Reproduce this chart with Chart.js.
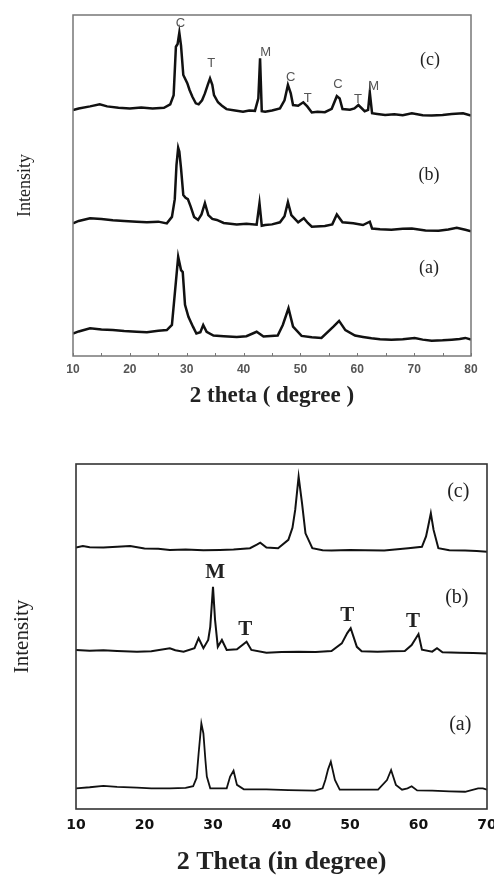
<!DOCTYPE html>
<html>
<head>
<meta charset="utf-8">
<script src="https://cdn.jsdelivr.net/npm/chart.js@4/dist/chart.umd.min.js"></script>
<style>
  html, body { margin: 0; padding: 0; background: #fff; overflow: hidden; width: 494px; height: 890px; }
  #topWrap { position: absolute; left: 0; top: 0; }
  #botWrap { position: absolute; left: 0; top: 440px; }
</style>
</head>
<body>
<div id="topWrap"><canvas id="topChart" width="494" height="420"></canvas></div>
<div id="botWrap"><canvas id="botChart" width="520" height="450"></canvas></div>
<script>
// ---- upper pattern, 2 theta 10-80 (intensity offset per trace) ----
var topCX = [10, 11, 13, 14.7, 16, 18, 20, 22, 24, 26, 27.1, 27.7, 28.1, 28.4, 28.7, 29.0, 29.4, 30.1, 30.5, 31.0, 31.6, 32.1, 32.7, 33.2, 33.7, 34.1, 34.5, 34.8, 35.5, 36.2, 37, 38.5, 39.9, 41, 42, 42.6, 42.9, 43.2, 43.8, 45, 46.4, 47.2, 47.8, 48.3, 48.7, 49.6, 50.5, 51.2, 52, 53, 54.3, 55.5, 56.4, 56.9, 57.4, 58.7, 59.5, 60.2, 61.3, 61.9, 62.2, 62.6, 63.5, 64.9, 66.5, 68, 69.6, 71.5, 73.1, 75, 76.6, 78.6, 80];
var topCY = [72.1, 72.6, 73.2, 73.8, 73.2, 72.8, 72.6, 72.9, 72.6, 72.8, 73.8, 76.5, 90.7, 91.5, 94.8, 91.0, 82.4, 80.0, 78.0, 76.0, 74.1, 73.8, 75.0, 77.0, 79.5, 81.4, 79.5, 76.5, 74.4, 73.4, 72.4, 72.0, 71.6, 72.0, 71.9, 75.6, 87.3, 71.8, 71.6, 72.0, 72.6, 75.0, 79.5, 77.0, 73.6, 73.4, 74.4, 73.2, 71.4, 71.6, 71.5, 72.5, 76.2, 75.5, 72.4, 72.2, 72.6, 73.6, 71.8, 72.2, 77.3, 71.2, 71.0, 70.7, 70.9, 70.6, 71.2, 70.6, 70.5, 70.7, 71.0, 71.2, 70.5];

var topBX = [10, 11, 13, 15, 17, 19, 21.2, 23, 25, 26.5, 27.4, 27.9, 28.2, 28.5, 28.7, 29.0, 29.4, 29.8, 30.2, 30.7, 31.3, 32.0, 32.6, 33.2, 33.8, 34.5, 35.3, 36.5, 38.8, 40.5, 42.3, 42.8, 43.2, 43.8, 45, 46.4, 47.2, 47.8, 48.4, 49.6, 50.6, 51.3, 52, 54.3, 55.6, 56.4, 57.4, 59.3, 61, 62.2, 62.6, 64, 66, 68, 69.6, 72, 74.3, 76, 77.5, 79, 80];
var topBY = [38.9, 39.6, 40.4, 40.2, 39.8, 39.6, 39.4, 39.2, 39.4, 38.9, 40.8, 46.0, 56.0, 61.1, 60.0, 55.0, 47.2, 46.4, 46.0, 43.8, 40.8, 39.9, 41.5, 44.8, 41.3, 40.2, 39.9, 39.0, 38.6, 38.8, 38.5, 44.8, 38.2, 38.4, 38.6, 39.2, 41.0, 45.1, 41.3, 39.2, 40.4, 39.0, 37.9, 38.1, 38.6, 41.5, 39.2, 38.9, 38.4, 39.4, 37.4, 37.2, 37.0, 37.3, 37.4, 36.8, 36.7, 37.1, 37.6, 37.0, 36.6];

var topAX = [10, 11, 13, 15, 17, 19, 21.2, 23, 25, 26.5, 27.4, 28.1, 28.5, 29.0, 29.3, 29.7, 30.3, 31.1, 31.7, 32.4, 32.9, 33.5, 34.7, 36.5, 38.8, 40.5, 42.3, 43.5, 46, 46.9, 47.9, 48.7, 50.2, 52, 53.7, 55.8, 56.8, 57.9, 59.6, 61, 62.5, 64, 66, 68, 70.1, 71.5, 73.1, 75, 76.6, 78, 79, 80];
var topAY = [6.6, 7.2, 8.1, 7.8, 7.6, 7.3, 7.1, 7.0, 7.4, 7.6, 9.1, 21.8, 29.1, 25.2, 24.6, 15.0, 11.5, 8.6, 6.6, 7.0, 9.1, 7.1, 6.0, 5.8, 5.6, 5.8, 7.1, 5.7, 6.0, 9.1, 14.0, 8.6, 5.9, 5.5, 5.3, 8.6, 10.3, 7.6, 6.0, 5.6, 5.2, 4.9, 4.8, 4.9, 5.3, 4.8, 4.5, 4.6, 4.8, 5.0, 5.3, 4.8];

// tick marks every 5 degrees, labels only on the tens
var topTicks = [10, 15, 20, 25, 30, 35, 40, 45, 50, 55, 60, 65, 70, 75, 80];
var topPeakText = ["C", "T", "M", "C", "T", "C", "T", "M"];
var topPeakX = [28.9, 34.3, 43.9, 48.3, 51.3, 56.6, 60.1, 62.9];
var topPeakY = [97.4, 85.9, 88.9, 81.8, 75.6, 79.5, 75.1, 79.0];
var topTraceText = ["(c)", "(b)", "(a)"];
var topTraceX = [72.8, 72.6, 72.6];
var topTraceY = [86.8, 53.1, 25.8];

// ---- lower pattern, 2 theta 10-70 ----
var botCX = [10, 11, 12, 14, 16, 17.9, 20, 22, 23.7, 26, 28.6, 31, 33, 35.4, 36.4, 36.9, 37.8, 39.5, 41, 41.6, 42, 42.5, 43, 43.5, 44.5, 46, 47.3, 50, 52.2, 55, 58.5, 60.5, 61.1, 61.4, 61.8, 62.2, 62.9, 64.5, 66.8, 68.5, 70];
var botCY = [75.8, 76.2, 75.9, 75.8, 76.0, 76.2, 75.5, 75.4, 75.1, 75.2, 75.0, 75.1, 75.2, 75.6, 76.6, 77.2, 75.8, 75.6, 78.0, 81.5, 86.7, 96.3, 88.6, 79.9, 75.6, 75.0, 74.9, 75.1, 75.0, 74.9, 75.6, 76.0, 79.0, 81.8, 85.7, 80.9, 75.6, 75.0, 74.9, 74.8, 74.6];

var botBX = [10, 12, 14, 16, 18.9, 21, 23.7, 24.5, 25.7, 27.3, 27.9, 28.6, 29.3, 29.6, 30.0, 30.3, 30.7, 31.3, 32.0, 33.5, 34.9, 35.6, 37.8, 40, 42.5, 45, 47.3, 48.8, 49.6, 50.1, 51.0, 51.7, 54, 56.1, 58, 59.0, 60.0, 60.5, 62, 62.7, 63.5, 66, 68, 70];
var botBY = [46.1, 45.9, 46.0, 45.8, 45.6, 45.7, 46.6, 46.0, 45.6, 46.6, 49.5, 46.6, 49.0, 52.8, 64.4, 54.8, 47.0, 49.0, 46.1, 46.3, 48.5, 46.1, 45.3, 45.5, 45.6, 45.5, 45.8, 48.0, 51.0, 52.4, 47.0, 45.7, 45.6, 45.7, 45.8, 47.5, 50.7, 46.2, 45.6, 46.6, 45.4, 45.3, 45.2, 45.1];

var botAX = [10, 12, 14, 16, 18.9, 21, 23.7, 26, 27.1, 27.6, 27.9, 28.3, 28.6, 28.9, 29.1, 29.6, 31, 32.0, 32.5, 33.0, 33.5, 34.5, 37.8, 41, 44.9, 46.0, 46.4, 46.8, 47.2, 47.8, 48.5, 51, 54.1, 55.4, 56.0, 56.7, 57.6, 58.4, 59.0, 59.8, 62, 64.5, 66.8, 68.7, 69.4, 70];
var botAY = [6.0, 6.3, 6.7, 6.4, 6.2, 6.0, 6.0, 6.1, 6.6, 9.0, 16.1, 24.8, 21.9, 14.0, 9.4, 6.0, 6.0, 6.0, 9.4, 11.1, 7.0, 5.7, 5.7, 5.5, 5.3, 6.0, 8.4, 11.5, 13.7, 8.4, 5.6, 5.6, 5.6, 8.4, 11.3, 7.0, 5.6, 6.0, 6.6, 5.4, 5.3, 5.1, 5.0, 6.0, 6.0, 5.6];

var botTicks = [10, 20, 30, 40, 50, 60, 70];
var botPeakText = ["M", "T", "T", "T"];
var botPeakX = [30.3, 34.7, 49.6, 59.2];
var botPeakY = [68.4, 51.9, 56.2, 54.2];
var botTraceText = ["(c)", "(b)", "(a)"];
var botTraceX = [65.8, 65.6, 66.1];
var botTraceY = [91.9, 61.2, 24.3];

function pairs(xs, ys) {
  return xs.map(function (v, i) { return { x: v, y: ys[i] }; });
}

function labelList(texts, xs, ys) {
  return texts.map(function (t, i) { return { text: t, x: xs[i], y: ys[i] }; });
}

// frame, inward ticks and the letters over the peaks
var decor = {
  id: "decor",
  afterDatasetsDraw: function (chart, args, opts) {
    var ctx = chart.ctx, a = chart.chartArea, sx = chart.scales.x, sy = chart.scales.y;
    ctx.save();
    ctx.strokeStyle = opts.frameColor;
    ctx.lineWidth = opts.frameWidth;
    ctx.strokeRect(a.left, a.top, a.right - a.left, a.bottom - a.top);
    if (opts.tickLen) {
      ctx.lineWidth = 1;
      sx.ticks.forEach(function (t) {
        var px = Math.round(sx.getPixelForValue(t.value)) + 0.5;
        ctx.beginPath();
        ctx.moveTo(px, a.bottom);
        ctx.lineTo(px, a.bottom - opts.tickLen);
        ctx.stroke();
      });
    }
    ctx.textAlign = "center";
    ctx.textBaseline = "middle";
    opts.groups.forEach(function (g) {
      ctx.font = g.font;
      ctx.fillStyle = g.color;
      g.items.forEach(function (l) {
        ctx.fillText(l.text, sx.getPixelForValue(l.x), sy.getPixelForValue(l.y));
      });
    });
    ctx.restore();
  }
};

function trace(xs, ys, w) {
  return {
    data: pairs(xs, ys),
    borderColor: "#111",
    borderWidth: w,
    pointRadius: 0,
    tension: 0,
    fill: false
  };
}

function makeChart(id, cfg) {
  return new Chart(document.getElementById(id), {
    type: "line",
    data: { datasets: cfg.datasets },
    options: {
      responsive: false,
      animation: false,
      devicePixelRatio: 1,
      layout: { padding: cfg.padding },
      plugins: {
        legend: { display: false },
        tooltip: { enabled: false },
        decor: cfg.decor
      },
      scales: {
        x: {
          type: "linear",
          min: cfg.xMin,
          max: cfg.xMax,
          afterFit: function (s) { s.height = cfg.xHeight; },
          afterBuildTicks: function (s) {
            s.ticks = cfg.ticks.map(function (v) { return { value: v }; });
          },
          grid: { display: false, drawTicks: false },
          border: { display: false },
          ticks: {
            autoSkip: false,
            maxRotation: 0,
            padding: cfg.tickPad,
            color: cfg.tickColor,
            font: cfg.tickFont,
            callback: function (v) { return v % 10 === 0 ? String(v) : ""; }
          },
          title: {
            display: true,
            text: cfg.xTitle,
            color: "#222",
            font: cfg.xTitleFont,
            padding: { top: 0, bottom: cfg.xTitlePad }
          }
        },
        y: {
          min: 0,
          max: 100,
          afterFit: function (s) { s.width = cfg.yWidth; },
          grid: { display: false },
          border: { display: false },
          ticks: { display: false },
          title: {
            display: true,
            text: "Intensity",
            color: "#222",
            font: cfg.yTitleFont,
            padding: { top: cfg.yTitlePad, bottom: 0 }
          }
        }
      }
    },
    plugins: [decor]
  });
}

makeChart("topChart", {
  datasets: [trace(topCX, topCY, 2.5), trace(topBX, topBY, 2.5), trace(topAX, topAY, 2.5)],
  padding: { top: 15, right: 23, left: 0, bottom: 0 },
  xMin: 10, xMax: 80,
  ticks: topTicks,
  xHeight: 64, yWidth: 73,
  tickPad: 6, tickColor: "#555",
  tickFont: { family: "Liberation Sans", size: 12, weight: "bold" },
  xTitle: "2 theta ( degree )",
  xTitleFont: { family: "Liberation Serif", size: 23, weight: "bold", lineHeight: 1.2 },
  xTitlePad: 10,
  yTitleFont: { family: "Liberation Serif", size: 18, lineHeight: 1.2 },
  yTitlePad: 14,
  decor: {
    frameColor: "#777", frameWidth: 1.5, tickLen: 3,
    groups: [
      { font: "13px 'Liberation Sans'", color: "#555", items: labelList(topPeakText, topPeakX, topPeakY) },
      { font: "18px 'Liberation Serif'", color: "#222", items: labelList(topTraceText, topTraceX, topTraceY) }
    ]
  }
});

makeChart("botChart", {
  datasets: [trace(botCX, botCY, 2), trace(botBX, botBY, 2), trace(botAX, botAY, 1.8)],
  padding: { top: 24, right: 33, left: 0, bottom: 0 },
  xMin: 10, xMax: 70,
  ticks: botTicks,
  xHeight: 81, yWidth: 76,
  tickPad: 8, tickColor: "#111",
  tickFont: { family: "DejaVu Sans", size: 14, weight: "bold" },
  xTitle: "2 Theta (in degree)",
  xTitleFont: { family: "Liberation Serif", size: 26, weight: "bold", lineHeight: 1.2 },
  xTitlePad: 12,
  yTitleFont: { family: "Liberation Serif", size: 21, lineHeight: 1.2 },
  yTitlePad: 10,
  decor: {
    frameColor: "#333", frameWidth: 1.6, tickLen: 0,
    groups: [
      { font: "bold 21px 'Liberation Serif'", color: "#222", items: labelList(botPeakText, botPeakX, botPeakY) },
      { font: "20px 'Liberation Serif'", color: "#222", items: labelList(botTraceText, botTraceX, botTraceY) }
    ]
  }
});
</script>
</body>
</html>
